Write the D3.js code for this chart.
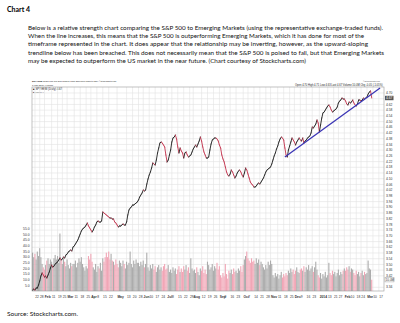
<!DOCTYPE html>
<html><head><meta charset="utf-8">
<script src="https://cdn.jsdelivr.net/npm/d3@7"></script>
<style>body{margin:0;background:#fff}svg{display:block}</style>
</head><body>
<svg id="c" width="400" height="323"></svg>
<script>
// ---------- data ----------
const title = "Chart 4";
const paragraph = [
  "Below is a relative strength chart comparing the S&P 500 to Emerging Markets (using the representative exchange-traded funds).",
  "When the line increases, this means that the S&P 500 is outperforming Emerging Markets, which it has done for most of the",
  "timeframe represented in the chart. It does appear that the relationship may be inverting, however, as the upward-sloping",
  "trendline below has been breached.  This does not necessarily mean that the S&P 500 is poised to fall, but that Emerging Markets",
  "may be expected to outperform the US market in the near future. (Chart courtesy of Stockcharts.com)"
];
const source = "Source:  Stockcharts.com.";

const firstDay = "2013-01-17";
const lastAxisDay = "2014-03-21";
const holidays = ["2013-01-21","2013-02-18","2013-03-29","2013-05-27","2013-07-04","2013-09-02",
  "2013-11-28","2013-12-25","2014-01-01","2014-01-20","2014-02-17"];

// SPY:EEM daily close (ratio)
const ratio = [
3.321,3.328,3.321,3.335,3.335,3.356,3.384,3.419,3.440,3.426,
3.412,3.419,3.405,3.426,3.447,3.475,3.496,3.482,3.489,3.503,
3.510,3.517,3.531,3.545,3.531,3.538,3.552,3.545,3.566,3.573,
3.587,3.594,3.601,3.594,3.622,3.629,3.643,3.657,3.671,3.692,
3.713,3.734,3.748,3.755,3.762,3.776,3.790,3.769,3.755,3.741,
3.727,3.741,3.762,3.776,3.797,3.804,3.797,3.797,3.804,3.867,
3.860,3.853,3.846,3.839,3.832,3.825,3.825,3.818,3.818,3.797,
3.790,3.776,3.762,3.769,3.769,3.776,3.783,3.776,3.776,3.797,
3.846,3.881,3.895,3.902,3.916,3.916,3.923,3.930,3.937,3.951,
3.972,3.986,4.000,4.021,4.014,4.021,4.063,4.098,4.126,4.147,
4.175,4.210,4.203,4.196,4.231,4.280,4.315,4.350,4.357,4.350,
4.336,4.322,4.266,4.217,4.231,4.266,4.301,4.357,4.385,4.392,
4.406,4.378,4.322,4.280,4.315,4.294,4.280,4.245,4.280,4.287,
4.266,4.252,4.259,4.266,4.287,4.308,4.322,4.336,4.322,4.343,
4.364,4.392,4.364,4.322,4.287,4.266,4.245,4.245,4.252,4.301,
4.343,4.371,4.378,4.385,4.385,4.378,4.364,4.336,4.315,4.266,
4.238,4.217,4.182,4.147,4.126,4.119,4.133,4.161,4.147,4.126,
4.105,4.119,4.140,4.154,4.161,4.147,4.126,4.112,4.140,4.175,
4.161,4.133,4.105,4.077,4.063,4.056,4.042,4.042,4.049,4.063,
4.070,4.063,4.077,4.091,4.105,4.126,4.147,4.161,4.168,4.175,
4.182,4.203,4.231,4.259,4.280,4.308,4.329,4.357,4.378,4.392,
4.385,4.371,4.315,4.266,4.252,4.301,4.329,4.357,4.385,4.371,
4.357,4.336,4.357,4.371,4.385,4.371,4.364,4.385,4.350,4.364,
4.371,4.385,4.392,4.399,4.420,4.462,4.455,4.469,4.483,4.511,
4.490,4.427,4.476,4.525,4.560,4.567,4.581,4.595,4.609,4.616,
4.602,4.581,4.567,4.574,4.581,4.588,4.602,4.630,4.644,4.651,
4.665,4.658,4.658,4.644,4.623,4.616,4.637,4.630,4.637,4.651,
4.630,4.616,4.609,4.623,4.651,4.651,4.644,4.651,4.665,4.658,
4.665,4.672,4.693,4.707,4.714,4.665
];

// EEM volume, millions of shares
const volume = [
34,30,33,28,35,31, 38,30,24, 21,19,23, 27,29,24,28,26,22,29, 32,28,31,25, 51,
27,24,29,26,22,28, 23,20,25,22,24, 24,27,21,25, 29,26,30,24, 21,18,22,20,
31,28,33,26, 21,19,24,17,22,20,25,18, 29,26,30, 34,30,35,28,33,27,
26,23,28,24,21,27, 25,22,27,24,20,26,23,25,35,24,21, 27,24,28,25,
25,22,26,23,27,21,24,34, 21,18,23,20,24,19,22,17,21,23,19,
21,18,22,24,19,20,23,17, 19,16,21,18,20,15,19,22,17,
20,17,22,19,23,18,21,16,29,20,18, 19,16,21,17,14,20,18,22,16,19,15,
26,23,19,21,24,18,22,20,25,19,22, 14,12,16,13,24,15,11,
18,16,19,15,20,17,18,16, 20,18,22,17,23, 28,31,35,29, 27,25,29,26,
27,24,29,25,28,23,26,24, 21,19,23,20, 26,23,27,24,
14,12,16,13,15,11,14,17,12,15,13,16,14, 18,16,20,17,19,15,18,21,17,16,19,
20,18,22,17,21,19,23,18,20,22,17,21,26,19, 14,12,16,11,15,13,17,12,14,
25,16,14,18,15,17,13,16,19,14,17,15,18, 20,18,21,19,22,17,20,19,
16,14,18,15,17,13,16,18,14,17,15,16, 27, 20,19,10
];

const trendline = [["2013-11-19", 4.252], ["2014-03-18", 4.735]];

const priceTicks = [4.70,4.66,4.62,4.58,4.54,4.50,4.46,4.42,4.38,4.34,4.30,4.26,4.22,4.18,4.14,4.10,
  4.06,4.02,3.98,3.94,3.90,3.86,3.82,3.78,3.74,3.70,3.66,3.62,3.58,3.54,3.50,3.46,3.42,3.34];
const volumeTicks = [5,10,15,20,25,30,35,40,45,50,55];

const xTicks = [
["22","2013-01-22"],["28","2013-01-28"],["Feb","2013-02-01"],["11","2013-02-11"],["19","2013-02-19"],["25","2013-02-25"],
["Mar","2013-03-01"],["11","2013-03-11"],["18","2013-03-18"],["25","2013-03-25"],["Apr","2013-04-01"],["8","2013-04-08"],
["15","2013-04-15"],["22","2013-04-22"],["May","2013-05-01"],["13","2013-05-13"],["20","2013-05-20"],["28","2013-05-28"],
["Jun","2013-06-03"],["10","2013-06-10"],["17","2013-06-17"],["24","2013-06-24"],["Jul","2013-07-01"],["8","2013-07-08"],
["15","2013-07-15"],["22","2013-07-22"],["29","2013-07-29"],["Aug","2013-08-01"],["12","2013-08-12"],["19","2013-08-19"],
["26","2013-08-26"],["Sep","2013-09-03"],["9","2013-09-09"],["16","2013-09-16"],["23","2013-09-23"],["Oct","2013-10-01"],
["7","2013-10-07"],["14","2013-10-14"],["21","2013-10-21"],["28","2013-10-28"],["Nov","2013-11-01"],["11","2013-11-11"],
["18","2013-11-18"],["25","2013-11-25"],["Dec","2013-12-02"],["9","2013-12-09"],["16","2013-12-16"],["23","2013-12-23"],
["2014","2014-01-02"],["13","2014-01-13"],["21","2014-01-21"],["27","2014-01-27"],["Feb","2014-02-03"],["10","2014-02-10"],
["18","2014-02-18"],["24","2014-02-24"],["Mar","2014-03-03"],["10","2014-03-10"],["17","2014-03-17"]
];

// ---------- trading-day calendar ----------
const hol = new Set(holidays);
const days = [];
for (let d = new Date(firstDay + "T12:00:00Z"); d <= new Date(lastAxisDay + "T12:00:00Z"); d.setUTCDate(d.getUTCDate() + 1)) {
  const wd = d.getUTCDay(), s = d.toISOString().slice(0, 10);
  if (wd > 0 && wd < 6 && !hol.has(s)) days.push(s);
}
const dayIndex = s => { let i = days.findIndex(x => x >= s); return i < 0 ? days.length : i; };

// ---------- drawing ----------
const svg = d3.select("#c");
const L = 32, R = 384, T = 87, B = 291;
const x = d3.scaleLinear().domain([-0.5, 295.3]).range([L, R]);
const y = d3.scaleLinear().domain([3.314, 4.742]).range([B, T]);
const yv = d3.scaleLinear().domain([0, 55]).range([B, 229]);
const n = Math.min(ratio.length, volume.length);
const step = x(1) - x(0);

// text page
svg.append("text").attr("x", 7).attr("y", 11.5).attr("font-family", "Lato, 'Open Sans', sans-serif")
  .attr("font-weight", "bold").attr("font-size", 6.6).attr("textLength", 23).attr("lengthAdjust", "spacingAndGlyphs").text(title);
const ends = [383, 364, 368, 384, 306];
paragraph.forEach((t, k) => {
  svg.append("text").attr("x", 28).attr("y", 29.6 + k * 8.4).attr("font-family", "Lato, 'Open Sans', sans-serif")
    .attr("font-size", 6.4).attr("fill", "#111").attr("textLength", ends[k] - 28).attr("lengthAdjust", "spacingAndGlyphs").text(t);
});
svg.append("text").attr("x", 7).attr("y", 315.5).attr("font-family", "Lato, 'Open Sans', sans-serif")
  .attr("font-size", 6.4).attr("fill", "#111").attr("textLength", 71).attr("lengthAdjust", "spacingAndGlyphs").text(source);

// chart header (tiny): size the font so the natural width fits the target width
const hf = "'Liberation Sans', Arial, sans-serif";
const fit = (sel, width) => {
  const w = sel.node().getComputedTextLength();
  const fs = +sel.attr("font-size");
  if (w > 0) sel.attr("font-size", (fs * width / w).toFixed(2));
  return sel;
};
const head = (xx, yy, fill) => svg.append("text").attr("x", xx).attr("y", yy).attr("font-family", hf)
  .attr("font-size", 3.4).attr("fill", fill || "#222");
{
  const t = head(32, 82);
  t.append("tspan").attr("font-weight", "bold").text("$SPY:EEM ");
  t.append("tspan").text("SPDR S&P 500 ETF/iShares MSCI Emerging Markets INDX ©StockCharts.com");
  fit(t, 85);
}
fit(head(32, 86).text("7-Mar-2014 4:00pm"), 21);
fit(head(33, 89.6).text("■ SPY:EEM (Daily) 4.67"), 29);
fit(head(33, 93).text("■ Volume ()"), 11);
fit(head(363, 82, "#555").text("©StockCharts.com"), 17);
fit(head(295, 86).text("Open 4.70 High 4.71 Low 4.63 Last 4.67 Volume 10.0M Chg -0.05 (-1.05%)"), 88);

// grid
const g = svg.append("g");
g.selectAll(".hg").data(priceTicks).join("line")
  .attr("x1", L).attr("x2", R).attr("y1", d => y(d)).attr("y2", d => y(d))
  .attr("stroke", "#e3e3e3").attr("stroke-width", 0.6);
g.selectAll(".vg").data(xTicks).join("line")
  .attr("x1", d => x(dayIndex(d[1]))).attr("x2", d => x(dayIndex(d[1])))
  .attr("y1", T).attr("y2", B).attr("stroke", "#e3e3e3").attr("stroke-width", 0.6);

// volume bars
const vols = d3.range(n).map(i => ({ i, v: volume[i], down: i > 0 && ratio[i] < ratio[i - 1] }));
svg.append("g").selectAll("rect").data(vols).join("rect")
  .attr("x", d => x(d.i) - step / 2).attr("width", step * 0.92)
  .attr("y", d => yv(d.v)).attr("height", d => yv(0) - yv(d.v))
  .attr("fill", d => d.down ? "#f1a6b6" : "#acacac");

// plot frame
svg.append("rect").attr("x", L).attr("y", T).attr("width", R - L).attr("height", B - T)
  .attr("fill", "none").attr("stroke", "#9a9a9a").attr("stroke-width", 0.6);

// price line segments
const segs = d3.range(1, n).map(i => ({ a: i - 1, b: i, down: ratio[i] < ratio[i - 1] }));
svg.append("g").selectAll("line").data(segs).join("line")
  .attr("x1", d => x(d.a)).attr("y1", d => y(ratio[d.a]))
  .attr("x2", d => x(d.b)).attr("y2", d => y(ratio[d.b]))
  .attr("stroke", d => d.down ? "#c2304b" : "#1c1c1c").attr("stroke-width", 0.9).attr("stroke-linecap", "round");

// trendline
svg.append("line")
  .attr("x1", x(dayIndex(trendline[0][0]))).attr("y1", y(trendline[0][1]))
  .attr("x2", x(dayIndex(trendline[1][0]))).attr("y2", y(trendline[1][1]))
  .attr("stroke", "#3b35b5").attr("stroke-width", 1.3);

// right price axis labels
svg.append("g").selectAll("text").data(priceTicks).join("text")
  .attr("x", 386).attr("y", d => y(d) + 1.2).attr("font-family", hf).attr("font-size", 3.3).attr("fill", "#333")
  .text(d => d.toFixed(2));
// last value box
const lv = ratio[n - 1];
svg.append("rect").attr("x", 385).attr("y", y(lv) - 2.2).attr("width", 8.5).attr("height", 4.4).attr("fill", "#555");
svg.append("text").attr("x", 386).attr("y", y(lv) + 1.2).attr("font-family", hf).attr("font-size", 3.3).attr("fill", "#fff").text(lv.toFixed(2));
// last volume box
const lvol = volume[n - 1];
svg.append("rect").attr("x", 385).attr("y", yv(lvol) - 2.2).attr("width", 9).attr("height", 4.4)
  .attr("fill", "#fff").attr("stroke", "#888").attr("stroke-width", 0.4);
svg.append("text").attr("x", 385.6).attr("y", yv(lvol) + 1.2).attr("font-family", hf).attr("font-size", 3.1).attr("fill", "#333").text(lvol.toFixed(1) + "M");

// left volume labels
svg.append("g").selectAll("text").data(volumeTicks).join("text")
  .attr("x", 29.5).attr("y", d => yv(d) + 1.2).attr("text-anchor", "end").attr("font-family", hf)
  .attr("font-size", 3.3).attr("fill", "#333").text(d => d.toFixed(1));

// x axis labels (start at their tick, like StockCharts)
svg.append("g").selectAll("text").data(xTicks).join("text")
  .attr("x", d => x(dayIndex(d[1])) + 0.3).attr("y", 297.5).attr("text-anchor", "start")
  .attr("font-family", hf).attr("font-size", 3.3).attr("fill", "#333")
  .attr("font-weight", d => /^[A-Z]|^2014/.test(d[0]) ? "bold" : "normal").text(d => d[0]);
</script>
</body></html>
